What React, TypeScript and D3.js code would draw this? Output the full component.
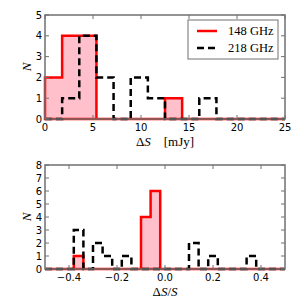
import React from 'react'
import * as d3 from 'd3'

// histogram counts
const flux148 = [2, 4, 4, 0, 0, 0, 0, 1, 0, 0, 0, 0, 0, 0]
const flux218 = [0, 1, 4, 2, 0, 2, 1, 0, 0, 1, 0, 0, 0, 0]
const ratio148 = [0, 0, 0, 1, 0, 0, 0, 0, 0, 0, 4, 6, 0, 0, 0, 0, 0, 0, 0, 0, 0, 0, 0, 0, 0]
const ratio218 = [0, 0, 0, 3, 0, 2, 1, 0, 1, 0, 0, 0, 0, 0, 0, 2, 0, 1, 0, 0, 0, 1, 0, 0, 0]

const fluxTicks = [0, 5, 10, 15, 20, 25]
const ratioTicks = [-0.4, -0.2, 0.0, 0.2, 0.4]
const legendLabels = ['148 GHz', '218 GHz']

const W = 300
const H = 300
const left = 45
const right = 285
const spine = '#707070'
const sans = 'DejaVu Sans, sans-serif'
const serif = 'Liberation Serif, DejaVu Serif, serif'

function edges(lo: number, hi: number, n: number) {
  return d3.range(n + 1).map((i) => lo + ((hi - lo) * i) / n)
}

function stepPoints(vals: number[], e: number[]): [number, number][] {
  const pts: [number, number][] = [[e[0], 0]]
  vals.forEach((v, i) => {
    pts.push([e[i], v])
    pts.push([e[i + 1], v])
  })
  pts.push([e[e.length - 1], 0])
  return pts
}

type PanelProps = {
  top: number
  bottom: number
  xDomain: [number, number]
  yMax: number
  xTicks: number[]
  fmt: (v: number) => string
  red: number[]
  black: number[]
  xlabel: React.ReactNode
}

function Panel({ top, bottom, xDomain, yMax, xTicks, fmt, red, black, xlabel }: PanelProps) {
  const x = d3.scaleLinear().domain(xDomain).range([left, right])
  const y = d3.scaleLinear().domain([0, yMax]).range([bottom, top])
  const line = d3
    .line<[number, number]>()
    .x((d) => x(d[0]))
    .y((d) => y(d[1]))
  const eRed = edges(xDomain[0], xDomain[1], red.length)
  const eBlack = edges(xDomain[0], xDomain[1], black.length)
  const redPath = line(stepPoints(red, eRed)) + 'Z'
  const blackPath = line(stepPoints(black, eBlack))
  const yTicks = y.ticks(yMax)
  const tl = 4
  return (
    <g>
      <path d={redPath} fill="pink" stroke="#ff0000" strokeWidth={2.5} strokeLinejoin="miter" />
      <path d={blackPath!} fill="none" stroke="#000" strokeWidth={2.5} strokeDasharray="7,4" />
      {xTicks.map((t) => (
        <g key={'x' + t}>
          <line x1={x(t)} x2={x(t)} y1={bottom} y2={bottom - tl} stroke={spine} />
          <line x1={x(t)} x2={x(t)} y1={top} y2={top + tl} stroke={spine} />
          <text x={x(t)} y={bottom + 12} textAnchor="middle" fontFamily={sans} fontSize={10}>
            {fmt(t)}
          </text>
        </g>
      ))}
      {yTicks.map((t) => (
        <g key={'y' + t}>
          <line x1={left} x2={left + tl} y1={y(t)} y2={y(t)} stroke={spine} />
          <line x1={right} x2={right - tl} y1={y(t)} y2={y(t)} stroke={spine} />
          <text x={42} y={y(t) + 3.6} textAnchor="end" fontFamily={sans} fontSize={10}>
            {t}
          </text>
        </g>
      ))}
      <rect x={left} y={top} width={right - left} height={bottom - top} fill="none" stroke={spine} strokeWidth={1.5} />
      <text
        transform={`translate(31,${(top + bottom) / 2}) rotate(-90)`}
        textAnchor="middle"
        fontFamily={serif}
        fontStyle="italic"
        fontSize={13}
      >
        N
      </text>
      <text x={(left + right) / 2} y={bottom + 27} textAnchor="middle" fontFamily={serif} fontSize={13}>
        {xlabel}
      </text>
    </g>
  )
}

export default function App() {
  return (
    <svg width={W} height={H} style={{ position: 'absolute', left: 0, top: 0, background: '#fff' }}>
      <rect width={W} height={H} fill="#fff" />
      <Panel
        top={15}
        bottom={119}
        xDomain={[0, 25]}
        yMax={5}
        xTicks={fluxTicks}
        fmt={(v) => String(v)}
        red={flux148}
        black={flux218}
        xlabel={
          <>
            Δ<tspan fontStyle="italic">S</tspan>
            {'\u2002\u2002[mJy]'}
          </>
        }
      />
      <Panel
        top={165}
        bottom={269}
        xDomain={[-0.5, 0.5]}
        yMax={8}
        xTicks={ratioTicks}
        fmt={(v) => (v < 0 ? '\u2212' : '') + Math.abs(v).toFixed(1)}
        red={ratio148}
        black={ratio218}
        xlabel={
          <>
            Δ<tspan fontStyle="italic">S</tspan>/<tspan fontStyle="italic">S</tspan>
          </>
        }
      />
      <g>
        <rect x={188} y={20} width={90} height={39} fill="#fff" stroke={spine} strokeWidth={1} />
        <line x1={197} x2={217} y1={31} y2={31} stroke="#ff0000" strokeWidth={2.5} />
        <line x1={197} x2={217} y1={48} y2={48} stroke="#000" strokeWidth={2.5} strokeDasharray="7,4" />
        {legendLabels.map((l, i) => (
          <text key={l} x={228} y={35 + i * 17} fontFamily={serif} fontSize={12.5}>
            {l}
          </text>
        ))}
      </g>
    </svg>
  )
}
